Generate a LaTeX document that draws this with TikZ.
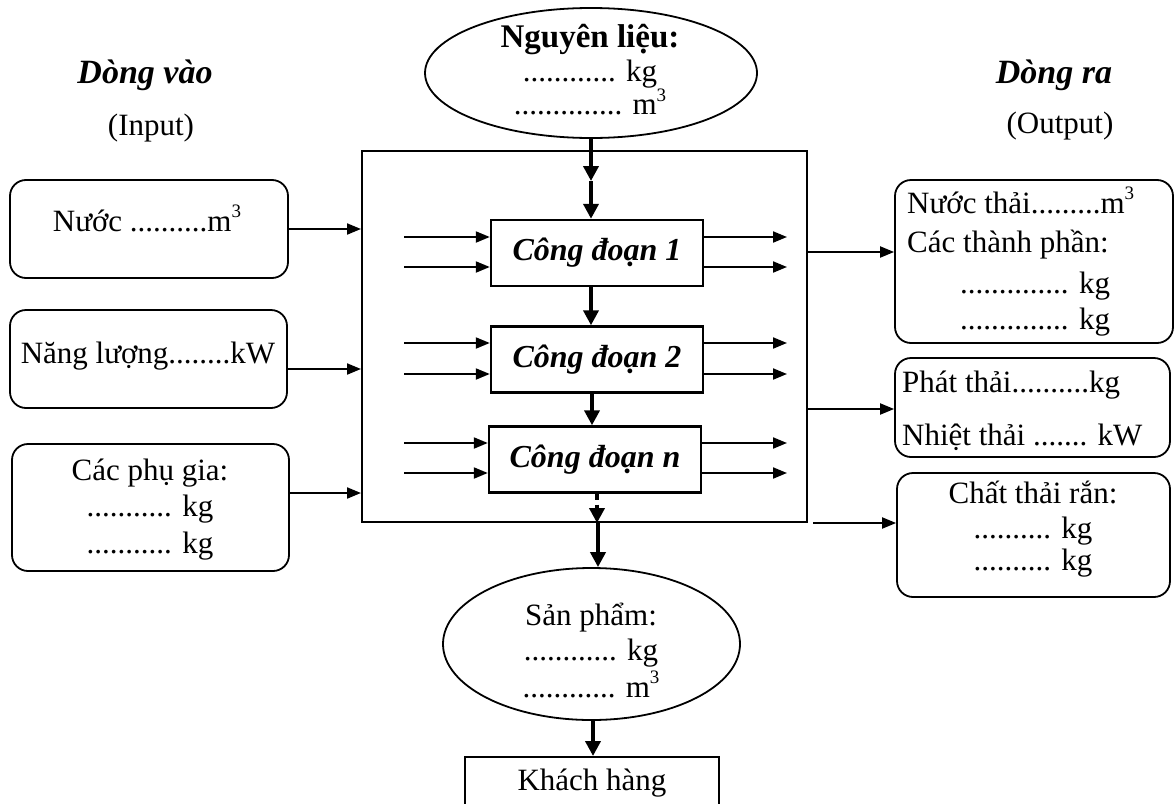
\documentclass[tikz,border=0pt]{standalone}
\usepackage{fontspec}
\setmainfont{Liberation Serif}
\usetikzlibrary{arrows.meta,shapes.geometric}

\newcommand{\dotsn}[1]{\foreach \i in {1,...,#1}{.}}
\newcommand{\cubed}{\raisebox{0.42em}{\fontsize{19}{19}\selectfont 3}}

\begin{document}
\begin{tikzpicture}[x=1pt,y=-1pt,
  txt/.style={inner sep=0pt, align=center, font=\fontsize{31}{37}\selectfont},
  txtl/.style={inner sep=0pt, align=left, font=\fontsize{31}{37}\selectfont},
  head/.style={inner sep=0pt, font=\fontsize{34}{40}\selectfont\bfseries\itshape},
  rbox/.style={draw, line width=1.8pt, rounded corners=16pt, inner sep=0pt},
  stagebox/.style={draw, line width=2.4pt, inner sep=0pt, minimum width=212pt, minimum height=66pt,
    font=\fontsize{32}{38}\selectfont\bfseries\itshape},
  oval/.style={draw, ellipse, line width=1.8pt, inner sep=0pt},
  flow/.style={line width=4pt, -{Triangle[length=15pt,width=15pt]}},
  side/.style={line width=2pt, -{Triangle[length=14pt,width=11pt]}}
]
\useasboundingbox (0,0) rectangle (1174,803);

% headings
\node[head, anchor=base] (hin) at (145,83) {Dòng vào};
\node[txt, anchor=base] (hinx) at (151,135) {(Input)};
\node[head, anchor=base] (hout) at (1054,83) {Dòng ra};
\node[txt, anchor=base] (houtx) at (1060,133) {(Output)};

% raw materials
\node[oval, minimum width=332pt, minimum height=130pt] (raw) at (591,73) {};
\node[txt] (rawt) at (590,70) {{\fontsize{33}{33}\selectfont\bfseries Nguyên liệu:}\\[-3pt]
  \dotsn{12} kg\\[-4pt] \dotsn{14} m\cubed};

% process frame
\node[draw, line width=2pt, minimum width=445pt, minimum height=371pt, inner sep=0pt] (frame) at (584.5,336.5) {};

% stages
\node[stagebox] (s1) at (597,253) {Công đoạn 1};
\node[stagebox] (s2) at (597,359.5) {Công đoạn 2};
\node[stagebox] (sn) at (595,459.5) {Công đoạn n};

\coordinate (mid) at (591,181);
\draw[flow] (raw.south -| mid) -- (mid);
\draw[flow] (mid) -- (s1.north -| mid);
\draw[flow] (s1.south -| 591,0) -- (s2.north -| 591,0);
\draw[flow] (s2.south -| 592,0) -- (sn.north -| 592,0);
\draw[line width=4pt, dash pattern=on 6pt off 5pt, -{Triangle[length=15pt,width=15pt]}]
  (sn.south -| 597,0) -- (frame.south -| 597,0);

% side flows of each stage
\foreach \n/\ya/\yb in {s1/237/267, s2/343/374, sn/443/473}{
  \coordinate (\n la) at (404,\ya);
  \coordinate (\n lb) at (404,\yb);
  \coordinate (\n ra) at (787,\ya);
  \coordinate (\n rb) at (787,\yb);
  \draw[side] (\n la) -- (\n.west |- \n la);
  \draw[side] (\n lb) -- (\n.west |- \n lb);
  \draw[side] (\n.east |- \n ra) -- (\n ra);
  \draw[side] (\n.east |- \n rb) -- (\n rb);
}

% inputs
\node[rbox, minimum width=278pt, minimum height=98pt] (water) at (149,229) {};
\node[txt, anchor=base] (watert) at (147,231) {Nước \dotsn{10}m\cubed};
\node[rbox, minimum width=277pt, minimum height=98pt] (energy) at (148.5,359) {};
\node[txt, anchor=base] (energyt) at (148,363) {Năng lượng\dotsn{8}kW};
\node[rbox, minimum width=277pt, minimum height=127pt] (add) at (150.5,507.5) {};
\node[txt, anchor=base] (addt1) at (150,480) {Các phụ gia:};
\node[txt, anchor=base] (addt2) at (150,516) {\dotsn{11} kg};
\node[txt, anchor=base] (addt3) at (150,553) {\dotsn{11} kg};

\draw[side] (water.east) -- (frame.west |- water.east);
\draw[side] (energy.east |- 0,369) -- (frame.west |- 0,369);
\draw[side] (add.east |- 0,493) -- (frame.west |- 0,493);

% outputs
\node[rbox, minimum width=278pt, minimum height=163pt] (ww) at (1034,261.5) {};
\node[txtl, anchor=base west] (wwt1) at (907,213) {Nước thải\dotsn{9}m\cubed};
\node[txtl, anchor=base west] (wwt2) at (907,252) {Các thành phần:};
\node[txtl, anchor=base west] (wwt3) at (960,293) {\dotsn{14} kg};
\node[txtl, anchor=base west] (wwt4) at (960,329) {\dotsn{14} kg};

\node[rbox, minimum width=275pt, minimum height=99pt] (em) at (1032.5,407.5) {};
\node[txtl, anchor=base west] (emt1) at (902,392) {Phát thải\dotsn{10}kg};
\node[txtl, anchor=base west] (emt2) at (902,445) {Nhiệt thải \dotsn{7} kW};

\node[rbox, minimum width=273pt, minimum height=124pt] (sw) at (1033.5,535) {};
\node[txt, anchor=base] (swt1) at (1033,503) {Chất thải rắn:};
\node[txt, anchor=base] (swt2) at (1033,538) {\dotsn{10} kg};
\node[txt, anchor=base] (swt3) at (1033,570) {\dotsn{10} kg};

\draw[side] (frame.east |- 0,252) -- (ww.west |- 0,252);
\draw[side] (frame.east |- 0,409) -- (em.west |- 0,409);
\coordinate (swstart) at (813,523);
\draw[side] (swstart) -- (sw.west |- swstart);

% product and customer
\node[oval, minimum width=297pt, minimum height=152pt] (prod) at (591.5,644) {};
\node[txt, anchor=base] (prodt1) at (591,625) {Sản phẩm:};
\node[txt, anchor=base] (prodt2) at (591,660) {\dotsn{12} kg};
\node[txt, anchor=base] (prodt3) at (591,697) {\dotsn{12} m\cubed};

\node[draw, line width=2pt, minimum width=254pt, minimum height=80pt, inner sep=0pt] (cust) at (592,797) {};
\node[txt, anchor=base] (custt) at (592,790) {Khách hàng};

\draw[flow] (frame.south -| 598,0) -- (prod.north -| 598,0);
\draw[flow] (prod.south -| 593,0) -- (cust.north -| 593,0);
\end{tikzpicture}
\end{document}
